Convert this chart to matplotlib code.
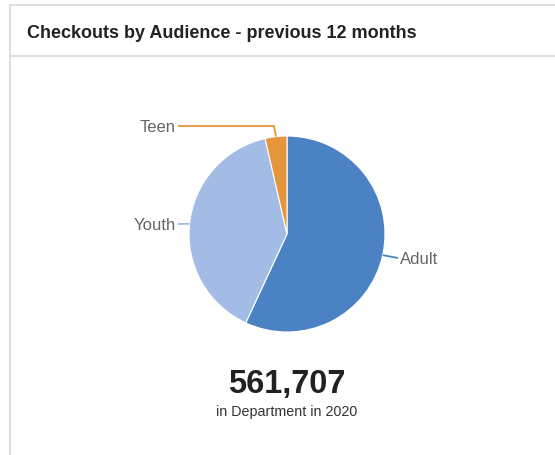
import numpy as np
import matplotlib
matplotlib.use("Agg")
import matplotlib.pyplot as plt

plt.rcParams["font.family"] = ["Liberation Sans", "DejaVu Sans"]

# checkouts by audience
audiences = ["Adult", "Youth", "Teen"]
checkouts = [319700, 221800, 20207]
colors = ["#4a82c3", "#a3bce5", "#e5963b"]
total_label = "561,707"
subtitle = "in Department in 2020"

W, H = 555, 456
fig = plt.figure(figsize=(W / 100, H / 100), dpi=100)
ax = fig.add_axes([0, 0, 1, 1])

# pixel-style coordinates, y measured from the top
def py(y):
    return H - y

cx, cy, r = 287, 235, 98
wedges, _ = ax.pie(checkouts, colors=colors, startangle=90, counterclock=False,
                   center=(cx, py(cy)), radius=r,
                   wedgeprops=dict(linewidth=0.8, edgecolor="white"))
ax.set_xlim(0, W)
ax.set_ylim(0, H)
ax.set_aspect("equal")
ax.axis("off")

# card outline and title divider
border = "#d6d9de"
ax.plot([10, 10], [py(6), 0], color=border, lw=1.2)
ax.plot([10, W], [py(6), py(6)], color=border, lw=1.2)
ax.plot([10, W], [py(57), py(57)], color=border, lw=1.2)
ax.text(27, py(33.5), "Checkouts by Audience - previous 12 months", fontsize=13,
        fontweight="bold", color="#222222", va="center", ha="left")

# data labels with connectors from the middle of each wedge
label_pos = {"Adult": (400, 259, "left"), "Youth": (176, 225, "right"), "Teen": (176, 127, "right")}
for w, name in zip(wedges, audiences):
    mid = np.deg2rad((w.theta1 + w.theta2) / 2)
    ex, ey = w.center[0] + r * np.cos(mid), w.center[1] + r * np.sin(mid)
    lx, ly, side = label_pos[name]
    end_x = lx - 2 if side == "left" else lx + 2
    if name == "Teen":
        xs, ys = [ex, ex - 2, end_x], [ey, py(ly), py(ly)]
    else:
        xs, ys = [ex, end_x], [ey, py(ly)]
    ax.plot(xs, ys, color=w.get_facecolor(), lw=1.3, solid_capstyle="butt")
    ax.text(lx, py(ly), name, fontsize=12, color="#666666", va="center", ha=side)

ax.text(287, py(385), total_label, fontsize=23.5, fontweight="bold", color="#222222",
        ha="center", va="center")
ax.text(287, py(412), subtitle, fontsize=10.3, color="#333333", ha="center", va="center")

fig.savefig("out.png", dpi=100)
plt.close()
